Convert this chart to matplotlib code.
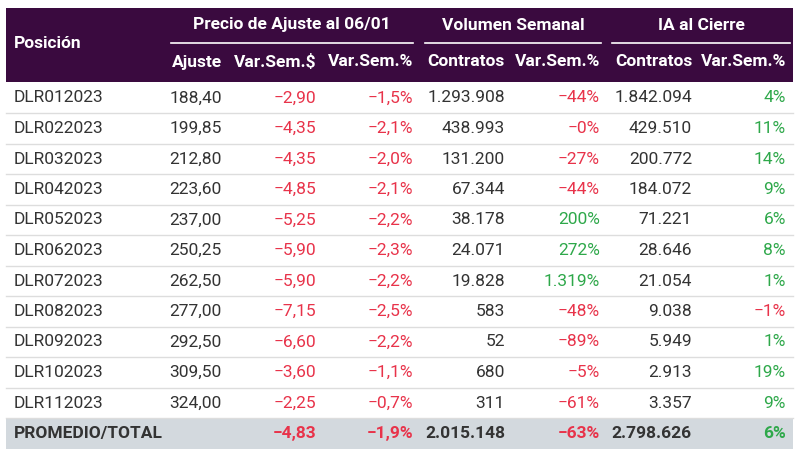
import matplotlib.pyplot as plt
from matplotlib.patches import Rectangle

plt.rcParams['font.family'] = ['Roboto', 'DejaVu Sans']

# table data
posiciones = ['DLR012023', 'DLR022023', 'DLR032023', 'DLR042023', 'DLR052023', 'DLR062023',
              'DLR072023', 'DLR082023', 'DLR092023', 'DLR102023', 'DLR112023']
ajuste = [188.40, 199.85, 212.80, 223.60, 237.00, 250.25, 262.50, 277.00, 292.50, 309.50, 324.00]
var_sem_pesos = [-2.90, -4.35, -4.35, -4.85, -5.25, -5.90, -5.90, -7.15, -6.60, -3.60, -2.25]
var_sem_pct = [-1.5, -2.1, -2.0, -2.1, -2.2, -2.3, -2.2, -2.5, -2.2, -1.1, -0.7]
vol_contratos = [1293908, 438993, 131200, 67344, 38178, 24071, 19828, 583, 52, 680, 311]
vol_var_pct = ['-44%', '-0%', '-27%', '-44%', '200%', '272%', '1.319%', '-48%', '-89%', '-5%', '-61%']
ia_contratos = [1842094, 429510, 200772, 184072, 71221, 28646, 21054, 9038, 5949, 2913, 3357]
ia_var_pct = [4, 11, 14, 9, 6, 8, 1, -1, 1, 19, 9]

total_label = 'PROMEDIO/TOTAL'
total_var_pesos = -4.83
total_var_pct = -1.9
total_vol = 2015148
total_vol_var = '-63%'
total_ia = 2798626
total_ia_var = 6

header_groups = ['Precio de Ajuste al 06/01', 'Volumen Semanal', 'IA al Cierre']
sub_headers = ['Ajuste', 'Var.Sem.$', 'Var.Sem.%', 'Contratos', 'Var.Sem.%', 'Contratos', 'Var.Sem.%']

purple = '#3a0a3f'
red = '#e8334a'
green = '#2ea84a'
dark = '#333333'


def num(v, dec):
    s = f'{abs(v):,.{dec}f}'.replace(',', 'X').replace('.', ',').replace('X', '.')
    return ('\u2212' if v < 0 else '') + s


def miles(v):
    return f'{v:,}'.replace(',', '.')


def pct_color(s):
    return red if s.startswith('-') else green


fig = plt.figure(figsize=(8, 4.57), dpi=100)
ax = fig.add_axes([0, 0, 1, 1])
ax.set_xlim(0, 800)
ax.set_ylim(457, 0)
ax.axis('off')

fs = 12.5
left, right = 6, 793
col_right = [222, 316, 413, 505, 600, 692, 786]

# header
ax.add_patch(Rectangle((left, 8), right - left, 74, color=purple, lw=0))
ax.text(14, 43, 'Posición', color='white', fontsize=fs, fontweight='bold', va='center')
group_spans = [(171, 413), (425, 601), (612, 790)]
for name, (a, b) in zip(header_groups, group_spans):
    ax.text((a + b) / 2, 25, name, color='white', fontsize=fs, fontweight='bold', ha='center', va='center')
    ax.plot([a, b], [43, 43], color='white', lw=1.2)
for xr, name in zip(col_right, sub_headers):
    ax.text(xr, 62, name, color='white', fontsize=fs, fontweight='bold', ha='right', va='center')

# rows
row_h = 30.5
y0 = 98
for i, p in enumerate(posiciones):
    y = y0 + i * row_h
    ax.text(14, y, p, color=dark, fontsize=fs, va='center')
    vals = [
        (num(ajuste[i], 2), dark),
        (num(var_sem_pesos[i], 2), red),
        (num(var_sem_pct[i], 1) + '%', red),
        (miles(vol_contratos[i]), dark),
        (vol_var_pct[i].replace('-', '\u2212'), pct_color(vol_var_pct[i])),
        (miles(ia_contratos[i]), dark),
        (num(ia_var_pct[i], 0) + '%', red if ia_var_pct[i] < 0 else green),
    ]
    for xr, (t, c) in zip(col_right, vals):
        ax.text(xr, y, t, color=c, fontsize=fs, ha='right', va='center')
    ax.plot([left, right], [y + row_h / 2, y + row_h / 2], color='#dddddd', lw=1)

# total row
yt = y0 + len(posiciones) * row_h
ax.add_patch(Rectangle((left, yt - 15.5), right - left, 31, color='#d3d9de', lw=0))
ax.text(14, yt, total_label, color=dark, fontsize=fs, fontweight='bold', va='center')
tvals = [
    ('', dark),
    (num(total_var_pesos, 2), red),
    (num(total_var_pct, 1) + '%', red),
    (miles(total_vol), dark),
    (total_vol_var.replace('-', '\u2212'), red),
    (miles(total_ia), dark),
    (num(total_ia_var, 0) + '%', green),
]
for xr, (t, c) in zip(col_right, tvals):
    ax.text(xr, yt, t, color=c, fontsize=fs, fontweight='bold', ha='right', va='center')

fig.savefig('out.png', dpi=100)
